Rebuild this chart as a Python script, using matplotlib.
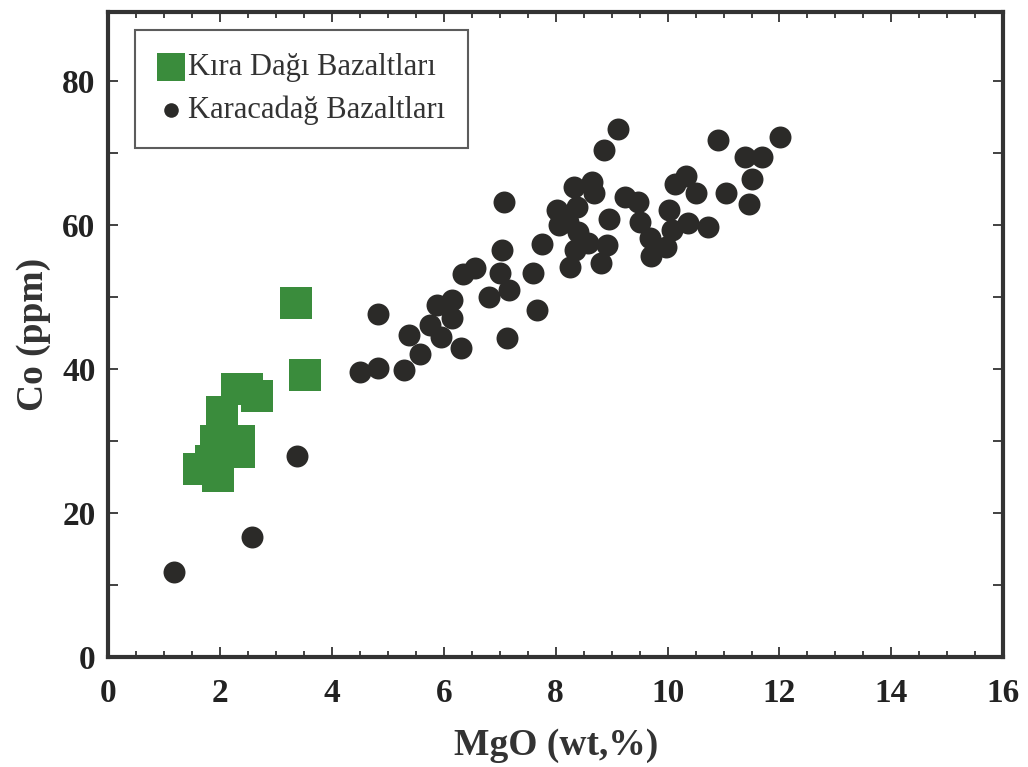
import matplotlib
matplotlib.use("Agg")
import matplotlib.pyplot as plt
from matplotlib.ticker import MultipleLocator

# Kıra Dağı Bazaltları (green squares)
kira_mgo = [3.36, 3.53, 2.31, 2.48, 2.67, 2.04, 1.93, 2.34, 2.34, 1.84, 1.63, 1.97]
kira_co = [49.2, 39.2, 37.2, 37.2, 36.3, 34.0, 30.0, 30.0, 28.5, 27.2, 26.1, 25.1]

# Karacadağ Bazaltları (black circles)
kara_mgo = [1.18, 2.57, 3.38, 4.50, 4.83, 4.83, 5.29, 5.38, 5.58, 5.76, 5.88, 5.95,
            6.15, 6.15, 6.31, 6.35, 6.56, 6.81, 7.00, 7.04, 7.08, 7.17, 7.13, 7.67,
            7.60, 7.76, 8.03, 8.06, 8.26, 8.33, 8.38, 8.35, 8.40, 8.58, 8.65, 8.69,
            8.81, 8.92, 8.87, 8.96, 9.12, 9.24, 9.48, 9.50, 9.69, 9.71, 9.97, 10.03,
            10.08, 10.13, 10.33, 10.37, 10.51, 10.73, 10.90, 11.05, 11.39, 11.46,
            11.51, 11.69, 12.01, 8.22]
kara_co = [11.8, 16.7, 27.9, 39.6, 40.1, 47.6, 39.9, 44.7, 42.1, 46.1, 48.9, 44.4,
           49.6, 47.1, 42.9, 53.1, 54.0, 50.0, 53.3, 56.5, 63.2, 51.0, 44.3, 48.2,
           53.3, 57.4, 62.1, 60.0, 54.2, 65.3, 62.4, 56.5, 59.0, 57.5, 66.0, 64.4,
           54.7, 57.2, 70.4, 60.8, 73.3, 63.8, 63.1, 60.4, 58.2, 55.7, 56.9, 62.1,
           59.3, 65.6, 66.8, 60.3, 64.4, 59.7, 71.8, 64.4, 69.4, 62.9,
           66.4, 69.4, 72.2, 60.4]

x_ticks = [0, 2, 4, 6, 8, 10, 12, 14, 16]
y_ticks = [0, 20, 40, 60, 80]

GREEN = "#3a8c3c"
BLACK = "#2b2a28"
FRAME = "#333333"

plt.rcParams['font.family'] = ['Liberation Serif', 'DejaVu Serif']

fig = plt.figure(figsize=(10.28, 7.67), dpi=100)
ax = fig.add_axes([0.105, 0.1434, 0.871, 0.8406])

ax.scatter(kara_mgo, kara_co, s=250, marker='o', color=BLACK, linewidths=0,
           label='Karacadağ Bazaltları', zorder=3)
ax.scatter(kira_mgo, kira_co, s=540, marker='s', color=GREEN, linewidths=0,
           label='Kıra Dağı Bazaltları', zorder=4)

ax.set_xlim(0, 16)
ax.set_ylim(0, 89.5)
ax.set_xticks(x_ticks)
ax.set_yticks(y_ticks)
ax.xaxis.set_minor_locator(MultipleLocator(0.5))
ax.yaxis.set_minor_locator(MultipleLocator(10))

ax.tick_params(which='both', direction='in', top=True, right=True,
               color=FRAME, width=1.3)
ax.tick_params(which='major', length=7)
ax.tick_params(axis='x', which='minor', length=4)
ax.tick_params(axis='y', which='minor', length=7)
ax.tick_params(axis='x', which='major', pad=15)
ax.tick_params(axis='y', which='major', pad=9)

for lab in ax.get_xticklabels() + ax.get_yticklabels():
    lab.set_fontweight('bold')
    lab.set_fontsize(24)
    lab.set_color('#222222')

for sp in ax.spines.values():
    sp.set_linewidth(3)
    sp.set_color(FRAME)

ax.set_xlabel('MgO (wt,%)', fontsize=27, fontweight='bold', color='#333333', labelpad=14)
ax.set_ylabel('Co (ppm)', fontsize=27, fontweight='bold', color='#333333', labelpad=8)

handles, labels = ax.get_legend_handles_labels()
leg = ax.legend([handles[1], handles[0]], [labels[1], labels[0]],
                loc='upper left', bbox_to_anchor=(0.03, 0.972), borderaxespad=0,
                fontsize=22, frameon=True, fancybox=False, edgecolor=FRAME,
                handletextpad=0.1, borderpad=0.75, labelspacing=0.45,
                handlelength=0.9, markerscale=1.0)
leg.legend_handles[0].set_sizes([420])
leg.legend_handles[1].set_sizes([110])
leg.get_frame().set_linewidth(1.5)
for t in leg.get_texts():
    t.set_color('#333333')

fig.savefig('out.png', dpi=100, facecolor='white')
